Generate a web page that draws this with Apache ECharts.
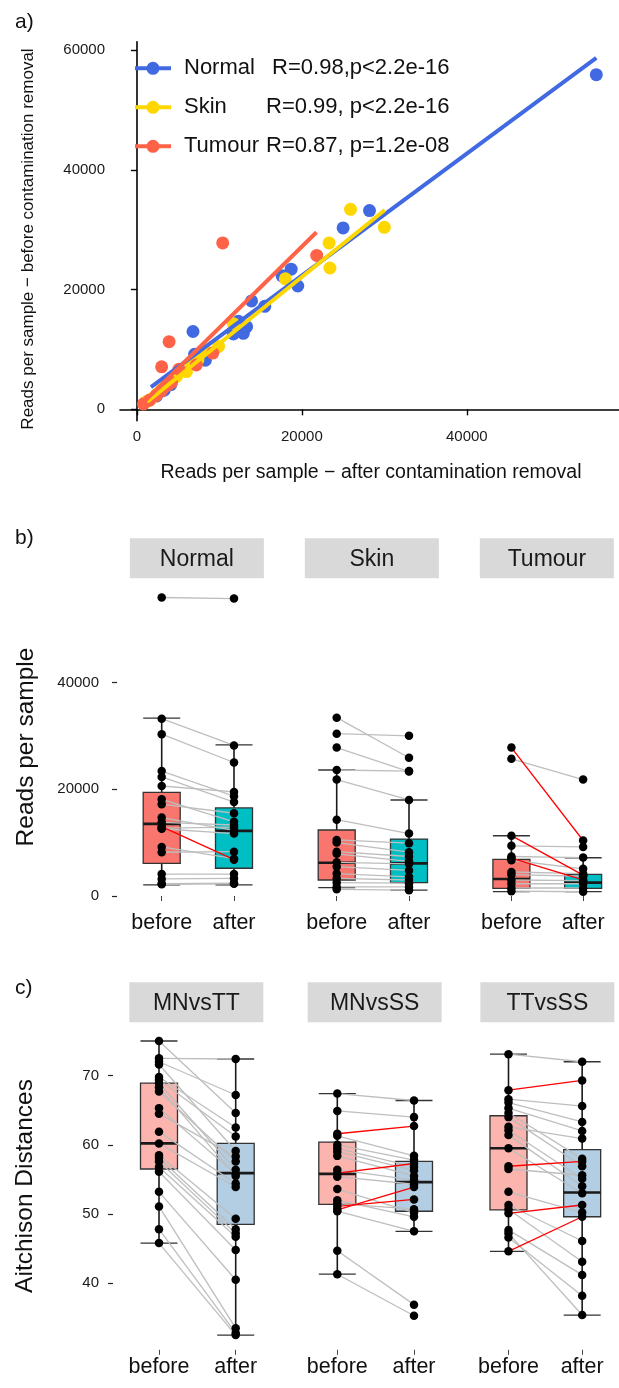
<!DOCTYPE html>
<html>
<head>
<meta charset="utf-8">
<script src="https://cdn.jsdelivr.net/npm/echarts@6/dist/echarts.min.js"></script>
<style>
  html, body { margin: 0; padding: 0; background: #fff; }
  #chart { width: 619px; height: 1388px; }
</style>
</head>
<body>
<div id="chart"></div>
<script>
const FONT = '"Liberation Sans", Arial, Helvetica, sans-serif';

// ---- panel a / b : reads per sample, paired (before, after) per sample ----
const groups = ["Normal", "Skin", "Tumour"];
const groupColors = ["#4169E1", "#FFD700", "#FF6347"];
const legendStats = [" R=0.98,p<2.2e-16", "R=0.99, p<2.2e-16", "R=0.87, p=1.2e-08"];

const normalBefore = [55900, 33200, 30300, 23400, 22300, 20600, 18100, 17200, 14700, 13800, 13000, 12700, 12600, 9200, 8200, 4100, 3200, 2300, 2200];
const normalAfter = [55700, 28200, 25000, 18700, 17600, 19500, 13900, 15500, 12300, 13300, 6800, 12900, 11700, 7000, 8300, 4100, 3300, 2400, 2300];
const normalRed = [0, 0, 0, 0, 0, 0, 0, 0, 0, 0, 1, 0, 0, 0, 0, 0, 0, 0, 0];

const skinBefore = [33400, 30400, 27800, 23600, 21800, 14300, 10500, 10000, 8300, 7900, 6300, 5500, 4200, 3300, 2500, 1700, 1250];
const skinAfter = [25900, 30000, 23300, 23400, 18000, 11700, 9900, 8200, 7400, 6500, 6000, 4800, 3600, 3000, 2400, 1700, 1100];
const skinRed = [0, 0, 0, 0, 0, 0, 0, 0, 0, 0, 0, 0, 0, 0, 0, 0, 0];

const tumourBefore = [27800, 25700, 11300, 9400, 7400, 7100, 6700, 4500, 4000, 3000, 2300, 1500, 900];
const tumourAfter = [10400, 21800, 3900, 9200, 7200, 3000, 5100, 4200, 3700, 2900, 2300, 1500, 800];
const tumourRed = [1, 0, 1, 0, 0, 1, 0, 0, 0, 0, 0, 0, 0];

// fitted lines in panel a, end points [after, before]
const normalFit = [[1700, 3700], [55700, 58700]];
const skinFit = [[1260, 1270], [30060, 33300]];
const tumourFit = [[670, 1000], [21770, 29570]];

// box statistics [min, q1, median, q3, max] for before / after
const normalBox = [[2100, 6100, 13500, 19400, 33300], [2100, 5200, 12200, 16500, 28300]];
const skinBox = [[1560, 3000, 6240, 12360, 23600], [1120, 2500, 6120, 10670, 17980]];
const tumourBox = [[810, 1440, 3180, 6870, 11290], [810, 1440, 2500, 4060, 7170]];

// ---- panel c : Aitchison distances ----
const distGroups = ["MNvsTT", "MNvsSS", "TTvsSS"];
const mnttBefore = [75.0, 72.5, 72.0, 71.6, 69.8, 69.4, 68.9, 68.3, 67.7, 65.3, 64.5, 61.9, 60.2, 58.5, 58.1, 57.6, 56.8, 56.1, 53.2, 51.1, 47.8, 45.8];
const mnttAfter = [64.6, 72.4, 67.2, 59.1, 62.5, 61.2, 56.4, 55.5, 57.6, 55.8, 58.3, 54.4, 53.9, 49.3, 47.8, 47.2, 46.7, 44.8, 40.5, 33.5, 32.8, 32.5];
const mnttRed = new Array(22).fill(0);

const mnssBefore = [67.4, 64.9, 61.6, 61.3, 60.0, 59.5, 59.0, 58.4, 56.4, 55.9, 55.4, 53.6, 52.0, 51.5, 51.1, 50.6, 50.4, 44.7, 41.3];
const mnssAfter = [66.4, 64.0, 62.7, 58.4, 57.8, 56.8, 56.3, 55.5, 54.9, 57.3, 54.3, 50.2, 49.6, 50.7, 52.1, 53.9, 47.5, 36.9, 35.3];
const mnssRed = [0, 0, 1, 0, 0, 0, 0, 0, 0, 1, 0, 0, 0, 0, 1, 1, 0, 0, 0];

const ttssBefore = [73.1, 67.9, 66.6, 66.1, 65.3, 64.6, 64.0, 62.6, 62.1, 61.4, 59.5, 56.9, 56.5, 53.2, 51.3, 50.7, 50.1, 47.7, 46.6, 44.6, 47.2];
const ttssAfter = [72.0, 69.3, 65.6, 63.3, 62.0, 58.0, 56.9, 60.9, 55.1, 54.0, 53.0, 57.6, 55.6, 50.2, 46.1, 43.1, 51.3, 41.2, 38.2, 49.6, 35.4];
const ttssRed = [0, 1, 0, 0, 0, 0, 0, 0, 0, 0, 0, 1, 0, 0, 0, 0, 1, 0, 0, 1, 0];

const mnttBox = [[45.8, 56.5, 60.2, 68.9, 75.0], [32.5, 48.5, 55.9, 60.2, 72.4]];
const mnssBox = [[41.3, 51.4, 55.8, 60.4, 67.4], [47.5, 50.4, 54.6, 57.6, 66.4]];
const ttssBox = [[44.6, 50.6, 59.5, 64.2, 73.1], [35.4, 49.6, 53.1, 59.3, 72.0]];

const stages = ["before", "after"];
const readTicks = [0, 20000, 40000, 60000];
const readTicksB = [0, 20000, 40000];
const distTicks = [40, 50, 60, 70];

const BOX_W = 37;

function renderBox(params, api) {
  const x = api.value(0);
  const at = (v) => api.coord([x, v]);
  const [cx, yMin] = at(api.value(1));
  const yQ1 = at(api.value(2))[1];
  const yMed = at(api.value(3))[1];
  const yQ3 = at(api.value(4))[1];
  const yMax = at(api.value(5))[1];
  const h = BOX_W / 2;
  const dark = "#1a1a1a";
  return {
    type: "group",
    children: [
      { type: "line", shape: { x1: cx, y1: yMin, x2: cx, y2: yQ1 }, style: { stroke: dark, lineWidth: 1.6 } },
      { type: "line", shape: { x1: cx, y1: yQ3, x2: cx, y2: yMax }, style: { stroke: dark, lineWidth: 1.6 } },
      { type: "line", shape: { x1: cx - h, y1: yMin, x2: cx + h, y2: yMin }, style: { stroke: "#333", lineWidth: 1.3 } },
      { type: "line", shape: { x1: cx - h, y1: yMax, x2: cx + h, y2: yMax }, style: { stroke: "#333", lineWidth: 1.3 } },
      { type: "rect", shape: { x: cx - h, y: yQ3, width: BOX_W, height: yQ1 - yQ3 }, style: { fill: api.visual("color"), stroke: "#333", lineWidth: 1.3 } },
      { type: "line", shape: { x1: cx - h, y1: yMed, x2: cx + h, y2: yMed }, style: { stroke: dark, lineWidth: 2.6 } },
    ],
  };
}

function renderPair(params, api) {
  const a = api.coord([0, api.value(1)]);
  const b = api.coord([1, api.value(2)]);
  const red = api.value(3) === 1;
  return {
    type: "line",
    z2: red ? 10 : 1,
    shape: { x1: a[0], y1: a[1], x2: b[0], y2: b[1] },
    style: { stroke: red ? "#FF0000" : "#BEBEBE", lineWidth: 1.3 },
  };
}

function facetSeries(gridIndex, before, after, red, box, fills) {
  const boxData = box.map((s, i) => ({ value: [i, ...s], itemStyle: { color: fills[i] } }));
  const pairData = before.map((v, i) => [0, v, after[i], red[i]]);
  const pointData = before.map((v) => [0, v]).concat(after.map((v) => [1, v]));
  return [
    {
      type: "custom", xAxisIndex: gridIndex, yAxisIndex: gridIndex, renderItem: renderBox,
      encode: { x: 0, y: [1, 2, 3, 4, 5] }, data: boxData, z: 2, silent: true,
    },
    {
      type: "custom", xAxisIndex: gridIndex, yAxisIndex: gridIndex, renderItem: renderPair,
      encode: { x: 0, y: [1, 2] }, data: pairData, z: 3, silent: true,
    },
    {
      type: "scatter", xAxisIndex: gridIndex, yAxisIndex: gridIndex, data: pointData,
      symbolSize: 8.5, itemStyle: { color: "#000", opacity: 1 }, z: 4, silent: true,
    },
  ];
}

// layout of the facet grids
const bCenters = [197.85, 372.85, 547.85];
const cCenters = [197.35, 375.65, 548.35];
const bHalf = 72.3;
const cHalf = 76.7;
const bTop = 582.8, bHeight = 323.6;
const cTop = 1026.3, cHeight = 323.5;

const grids = [{ left: 120, top: 41.7, width: 510, height: 379 }];
bCenters.forEach((c) => grids.push({ left: c - bHalf, top: bTop, width: bHalf * 2, height: bHeight }));
cCenters.forEach((c) => grids.push({ left: c - cHalf, top: cTop, width: cHalf * 2, height: cHeight }));

const plain = (v) => String(v);
const tickText = { fontFamily: FONT, fontSize: 15, color: "#1a1a1a", formatter: plain };

const xAxes = [{
  gridIndex: 0, type: "value", min: -2050, max: 58450,
  axisLine: { show: true, lineStyle: { color: "#000", width: 1.6 } },
  axisTick: { show: true, length: 6, lineStyle: { color: "#000", width: 1.4 }, customValues: readTicks },
  axisLabel: { ...tickText, margin: 9, customValues: readTicks },
  splitLine: { show: false },
}];
const yAxes = [{
  gridIndex: 0, type: "value", min: -1900, max: 61400,
  axisLine: { show: true, lineStyle: { color: "#000", width: 1.6 } },
  axisTick: { show: true, length: 6, lineStyle: { color: "#000", width: 1.4 }, customValues: readTicks },
  axisLabel: { ...tickText, margin: 15, customValues: readTicks },
  splitLine: { show: false },
}];

function facetAxes(gridIndex, first, min, max, ticks, offset, margin) {
  xAxes.push({
    gridIndex, type: "category", data: stages, boundaryGap: true,
    axisLine: { show: false },
    axisTick: { show: true, alignWithLabel: true, interval: 0, length: 5, lineStyle: { color: "#444", width: 1 } },
    axisLabel: { fontFamily: FONT, fontSize: 21.5, color: "#111", margin: 6, interval: 0, hideOverlap: false },
    splitLine: { show: false },
  });
  yAxes.push({
    gridIndex, type: "value", min, max, show: first, offset,
    axisLine: { show: false },
    axisTick: { show: true, length: 5, lineStyle: { color: "#222", width: 1.2 }, customValues: ticks },
    axisLabel: { ...tickText, margin, customValues: ticks },
    splitLine: { show: false },
  });
}
bCenters.forEach((c, i) => facetAxes(1 + i, i === 0, -1945, 58655, readTicksB, c - bHalf - 117, 18));
cCenters.forEach((c, i) => facetAxes(4 + i, i === 0, 30.375, 77.125, distTicks, c - cHalf - 113, 14));

// panel a series
const readBefore = [normalBefore, skinBefore, tumourBefore];
const readAfter = [normalAfter, skinAfter, tumourAfter];
const fits = [normalFit, skinFit, tumourFit];
const series = [];
groups.forEach((g, i) => {
  series.push({
    name: g, type: "scatter", xAxisIndex: 0, yAxisIndex: 0,
    data: readAfter[i].map((v, k) => [v, readBefore[i][k]]),
    symbolSize: 13, itemStyle: { color: groupColors[i], opacity: 1 }, z: 2 + i,
  });
});
groups.forEach((g, i) => {
  series.push({
    name: g, type: "line", xAxisIndex: 0, yAxisIndex: 0, data: fits[i],
    symbol: "none", lineStyle: { color: groupColors[i], width: 4 }, itemStyle: { color: groupColors[i] }, z: 6,
  });
});

const readFills = ["#F8766D", "#00BFC4"];
const distFills = ["#FBB4AE", "#B3CDE3"];
series.push(...facetSeries(1, normalBefore, normalAfter, normalRed, normalBox, readFills));
series.push(...facetSeries(2, skinBefore, skinAfter, skinRed, skinBox, readFills));
series.push(...facetSeries(3, tumourBefore, tumourAfter, tumourRed, tumourBox, readFills));
series.push(...facetSeries(4, mnttBefore, mnttAfter, mnttRed, mnttBox, distFills));
series.push(...facetSeries(5, mnssBefore, mnssAfter, mnssRed, mnssBox, distFills));
series.push(...facetSeries(6, ttssBefore, ttssAfter, ttssRed, ttssBox, distFills));

// strips, panel tags and axis titles
const graphics = [];
function strip(cx, top, label) {
  graphics.push({ type: "rect", shape: { x: cx - 68, y: top, width: 134, height: 40 }, style: { fill: "#D9D9D9" }, silent: true });
  graphics.push({
    type: "text", x: cx - 1, y: top + 21,
    style: { text: label, font: `23px ${FONT}`, fill: "#1a1a1a", align: "center", verticalAlign: "middle" },
    silent: true,
  });
}
bCenters.forEach((c, i) => strip(c, 538.3, groups[i]));
cCenters.forEach((c, i) => strip(c, 982.3, distGroups[i]));

function label(text, x, y, size, rotate) {
  graphics.push({
    type: "text", x, y, rotation: rotate ? Math.PI / 2 : 0,
    style: { text, font: `${size}px ${FONT}`, fill: "#111", align: rotate ? "center" : "left", verticalAlign: "middle" },
    silent: true,
  });
}
label("a)", 15, 22, 21, false);
label("b)", 15, 538, 21, false);
label("c)", 15, 988, 21, false);
graphics.push({
  type: "text", x: 371, y: 473,
  style: { text: "Reads per sample \u2212 after contamination removal", font: `19.5px ${FONT}`, fill: "#111", align: "center", verticalAlign: "middle" },
  silent: true,
});
label("Reads per sample \u2212 before contamination removal", 28, 239, 17, true);
label("Reads per sample", 26, 747, 24.5, true);
label("Aitchison Distances", 25, 1186, 24.5, true);

const legendIcon = "path://M0,5H36V9H0Z M24.5,7A6.5,6.5 0 1 1 11.5,7A6.5,6.5 0 1 1 24.5,7Z";

const option = {
  animation: false,
  backgroundColor: "#fff",
  textStyle: { fontFamily: FONT },
  grid: grids,
  xAxis: xAxes,
  yAxis: yAxes,
  legend: {
    orient: "vertical", left: 130, top: 52.3,
    itemWidth: 36, itemHeight: 14, itemGap: 17,
    selectedMode: false,
    data: groups.map((g) => ({ name: g, icon: legendIcon })),
    formatter: (name) => `{n|${name}}{s|${legendStats[groups.indexOf(name)]}}`,
    textStyle: {
      fontFamily: FONT, fontSize: 22, color: "#111", lineHeight: 22,
      rich: {
        n: { fontFamily: FONT, fontSize: 22, color: "#111", width: 82, padding: [0, 0, 0, 8] },
        s: { fontFamily: FONT, fontSize: 22, color: "#111" },
      },
    },
  },
  graphic: graphics,
  series,
};

const chart = echarts.init(document.getElementById("chart"));
chart.setOption(option);
</script>
</body>
</html>
